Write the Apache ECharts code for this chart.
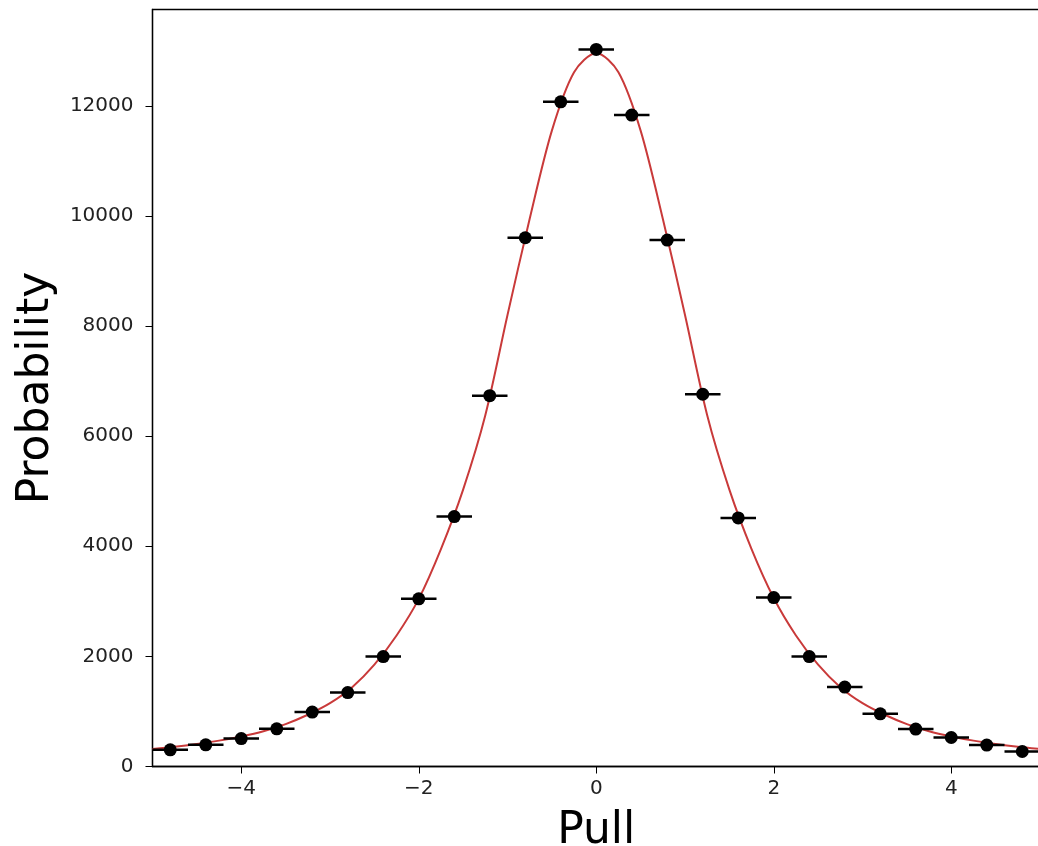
<!DOCTYPE html>
<html>
<head>
<meta charset="utf-8">
<script src="https://cdn.jsdelivr.net/npm/echarts@6/dist/echarts.min.js"></script>
<style>
  html, body { margin: 0; padding: 0; background: #fff; }
  #chart { width: 1038px; height: 846px; }
</style>
</head>
<body>
<div id="chart"></div>
<script>
// bin centres and counts
var binX = [-4.8, -4.4, -4.0, -3.6, -3.2, -2.8, -2.4, -2.0, -1.6, -1.2, -0.8, -0.4, 0.0,
            0.4, 0.8, 1.2, 1.6, 2.0, 2.4, 2.8, 3.2, 3.6, 4.0, 4.4, 4.8];
var binCounts = [303, 394, 508, 684, 988, 1343, 1997, 3045, 4539, 6736, 9604, 12073, 13025,
                 11832, 9562, 6761, 4515, 3068, 1997, 1442, 957, 679, 527, 389, 272];
var binHalfWidth = 0.2;

// fitted curve
var curveX = [-5, -4.75, -4.5, -4.25, -4, -3.75, -3.5, -3.25, -3, -2.75, -2.5, -2.25, -2,
              -1.75, -1.5, -1.25, -1, -0.75, -0.5, -0.25, 0,
              0.25, 0.5, 0.75, 1, 1.25, 1.5, 1.75, 2, 2.25, 2.5, 2.75, 3, 3.25, 3.5, 3.75,
              4, 4.25, 4.5, 4.75, 5];
var curveY = [320, 360, 410, 470, 545, 640, 770, 940, 1150, 1440, 1850, 2380, 3045,
              3950, 5030, 6380, 8200, 9950, 11550, 12610, 12960,
              12610, 11550, 9950, 8200, 6380, 5030, 3950, 3060, 2380, 1850, 1440, 1150, 940, 770, 640,
              545, 470, 410, 360, 320];

var xTicks = [-4, -2, 0, 2, 4];
var yTicks = [0, 2000, 4000, 6000, 8000, 10000, 12000];

var chart = echarts.init(document.getElementById('chart'));
var font = 'DejaVu Sans';

chart.setOption({
  animation: false,
  textStyle: { fontFamily: font },
  grid: {
    left: 152.5, right: -2, top: 9.5, bottom: 79.5,
    outerBoundsMode: 'none',
    show: true, borderColor: '#000', borderWidth: 1.3
  },
  xAxis: {
    type: 'value', min: -5, max: 5,
    name: 'Pull', nameLocation: 'middle', nameGap: 43,
    nameTextStyle: { fontSize: 44, color: '#000', fontFamily: font },
    splitLine: { show: false },
    axisLine: { onZero: false, lineStyle: { color: '#000', width: 1.3 } },
    axisTick: { customValues: xTicks, length: 7, lineStyle: { color: '#000', width: 1 } },
    axisLabel: {
      customValues: xTicks, fontSize: 20, color: '#222', margin: 12,
      formatter: function (v) { return String(v).replace('-', '\u2212'); }
    }
  },
  yAxis: {
    type: 'value', min: 0, max: 13750,
    name: 'Probability', nameLocation: 'middle', nameGap: 94,
    nameTextStyle: { fontSize: 44, color: '#000', fontFamily: font },
    splitLine: { show: false },
    axisLine: { onZero: false, lineStyle: { color: '#000', width: 1.3 } },
    axisTick: { customValues: yTicks, length: 7, lineStyle: { color: '#000', width: 1 } },
    axisLabel: {
      customValues: yTicks, fontSize: 20, color: '#222', margin: 19,
      formatter: function (v) { return String(v); }
    }
  },
  series: [
    {
      name: 'fit', type: 'line', smooth: 0.3, symbol: 'none',
      data: curveX.map(function (x, i) { return [x, curveY[i]]; }),
      lineStyle: { color: '#c93a3a', width: 2 },
      z: 2
    },
    {
      name: 'errors', type: 'custom',
      data: binX.map(function (x, i) { return [x, binCounts[i]]; }),
      encode: { x: 0, y: 1 },
      renderItem: function (params, api) {
        var x = api.value(0), y = api.value(1);
        var a = api.coord([x - binHalfWidth, y]);
        var b = api.coord([x + binHalfWidth, y]);
        return {
          type: 'line',
          shape: { x1: a[0], y1: a[1], x2: b[0], y2: b[1] },
          style: { stroke: '#000', lineWidth: 2.5 }
        };
      },
      z: 3
    },
    {
      name: 'data', type: 'scatter',
      data: binX.map(function (x, i) { return [x, binCounts[i]]; }),
      symbol: 'circle', symbolSize: 13,
      itemStyle: { color: '#000', opacity: 1 },
      z: 4
    }
  ]
});
</script>
</body>
</html>
